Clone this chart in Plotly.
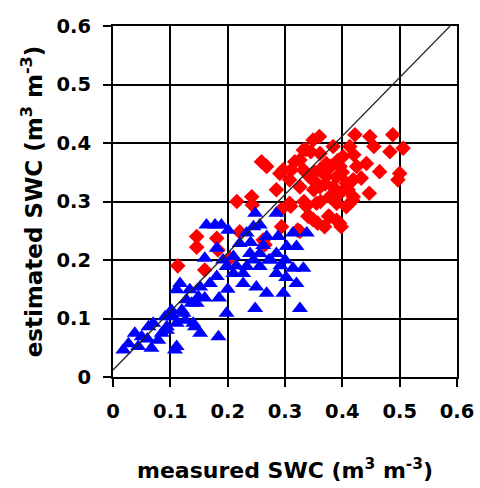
import plotly.graph_objects as go

# Soil water content: measured vs. estimated (m3 m-3)
red_measured = [
    0.113, 0.146, 0.146, 0.181, 0.183, 0.160, 0.204,
    0.216, 0.242, 0.243, 0.221, 0.265, 0.294, 0.326, 0.262,
    0.259, 0.268, 0.285, 0.297, 0.291, 0.311, 0.317, 0.326, 0.332, 0.337,
    0.349, 0.360, 0.422, 0.448, 0.488, 0.506, 0.483, 0.465, 0.500, 0.497,
    0.433, 0.447, 0.419, 0.398, 0.369, 0.349, 0.337, 0.308, 0.293, 0.322,
    0.413, 0.401, 0.372, 0.390, 0.361, 0.378, 0.407, 0.425, 0.355, 0.390,
    0.407, 0.326, 0.343, 0.308, 0.332, 0.361, 0.384, 0.396, 0.343, 0.378,
    0.390, 0.349, 0.361, 0.372, 0.384, 0.396, 0.419, 0.442, 0.455, 0.418,
    0.395, 0.357, 0.376, 0.340, 0.310,
    0.350, 0.370, 0.400, 0.380, 0.352, 0.410, 0.362, 0.333, 0.420, 0.392,
    0.345,
]
red_estimated = [
    0.190, 0.240, 0.222, 0.237, 0.217, 0.183, 0.203,
    0.300, 0.308, 0.294, 0.248, 0.226, 0.257, 0.249, 0.234,
    0.368, 0.360, 0.320, 0.354, 0.348, 0.354, 0.368, 0.371, 0.388, 0.389,
    0.405, 0.411, 0.414, 0.411, 0.414, 0.391, 0.385, 0.351, 0.348, 0.337,
    0.340, 0.314, 0.308, 0.257, 0.257, 0.269, 0.292, 0.297, 0.286, 0.251,
    0.394, 0.377, 0.365, 0.342, 0.325, 0.308, 0.331, 0.360, 0.297, 0.297,
    0.291, 0.325, 0.342, 0.337, 0.354, 0.382, 0.394, 0.360, 0.274, 0.274,
    0.268, 0.337, 0.354, 0.343, 0.325, 0.314, 0.337, 0.365, 0.394, 0.302,
    0.263, 0.263, 0.275, 0.275, 0.292,
    0.320, 0.330, 0.350, 0.360, 0.350, 0.320, 0.300, 0.300, 0.380, 0.370,
    0.385,
]

blue_measured = [
    0.163, 0.178, 0.189, 0.201, 0.181, 0.160, 0.192, 0.248, 0.285, 0.256,
    0.233, 0.268, 0.288, 0.314, 0.338, 0.303, 0.320, 0.239, 0.256, 0.285,
    0.233, 0.256, 0.285, 0.314, 0.332, 0.320, 0.297, 0.268, 0.250, 0.227,
    0.210, 0.198, 0.181, 0.169, 0.152, 0.134, 0.117, 0.111, 0.128, 0.146,
    0.123, 0.105, 0.140, 0.094, 0.198, 0.248, 0.326, 0.184, 0.111, 0.210,
    0.221, 0.245, 0.227, 0.275, 0.300,
    0.018, 0.038, 0.044, 0.062, 0.070, 0.067, 0.079, 0.094, 0.108, 0.111,
    0.126, 0.143, 0.152, 0.027, 0.050, 0.120, 0.137, 0.149, 0.091, 0.102,
    0.240, 0.262, 0.272, 0.245, 0.292, 0.302, 0.215, 0.200, 0.185, 0.160,
    0.060, 0.085,
]
blue_estimated = [
    0.260, 0.260, 0.260, 0.251, 0.220, 0.203, 0.200, 0.280, 0.280, 0.260,
    0.246, 0.240, 0.240, 0.246, 0.246, 0.223, 0.223, 0.211, 0.211, 0.211,
    0.189, 0.189, 0.177, 0.186, 0.186, 0.160, 0.143, 0.143, 0.154, 0.160,
    0.177, 0.189, 0.172, 0.160, 0.154, 0.149, 0.160, 0.149, 0.132, 0.126,
    0.109, 0.103, 0.092, 0.086, 0.109, 0.117, 0.117, 0.069, 0.052, 0.206,
    0.228, 0.257, 0.177, 0.200, 0.200,
    0.046, 0.075, 0.052, 0.086, 0.092, 0.049, 0.063, 0.080, 0.046, 0.092,
    0.097, 0.086, 0.075, 0.057, 0.069, 0.114, 0.126, 0.137, 0.103, 0.114,
    0.230, 0.225, 0.200, 0.200, 0.190, 0.170, 0.190, 0.150, 0.135, 0.135,
    0.065, 0.075,
]

# reference line
line_x = [0.0, 0.588]
line_y = [0.012, 0.6]

tick_vals = [0, 0.1, 0.2, 0.3, 0.4, 0.5, 0.6]
tick_text = ["0", "0.1", "0.2", "0.3", "0.4", "0.5", "0.6"]

font_family = "DejaVu Sans, Verdana, sans-serif"
tick_font = dict(family=font_family, size=19.5, color="black", weight="bold")

fig = go.Figure()
fig.add_trace(go.Scatter(
    x=red_measured, y=red_estimated, mode="markers",
    marker=dict(symbol="diamond", size=12, color="#ff0000", line=dict(width=0)),
))
fig.add_trace(go.Scatter(
    x=blue_measured, y=blue_estimated, mode="markers",
    marker=dict(symbol="triangle-up", size=14, color="#0000ff", line=dict(width=0)),
))
fig.add_trace(go.Scatter(
    x=line_x, y=line_y, mode="lines",
    line=dict(color="#222222", width=1.2),
))

axis_common = dict(
    range=[0, 0.6],
    tickvals=tick_vals,
    ticktext=tick_text,
    showgrid=True, gridcolor="black", gridwidth=2,
    showline=True, linecolor="black", linewidth=2, mirror=True,
    ticks="outside", ticklen=8, tickwidth=1.5, tickcolor="black",
    zeroline=False,
    automargin=False,
    tickfont=tick_font,
)

fig.update_layout(
    width=480, height=488,
    margin=dict(l=113, r=23, t=26, b=111),
    paper_bgcolor="white", plot_bgcolor="white",
    showlegend=False,
    xaxis=dict(
        **axis_common,
        ticklabelstandoff=8,
        title=dict(text="measured SWC (m<sup>3</sup> m<sup>-3</sup>)",
                   font=dict(family=font_family, size=22, color="black", weight="bold"),
                   standoff=40),
    ),
    yaxis=dict(
        **axis_common,
        ticklabelstandoff=8,
        title=dict(text="estimated SWC (m<sup>3</sup> m<sup>-3</sup>)",
                   font=dict(family=font_family, size=23, color="black", weight="bold"),
                   standoff=8),
    ),
)

fig.write_html("out.html")
